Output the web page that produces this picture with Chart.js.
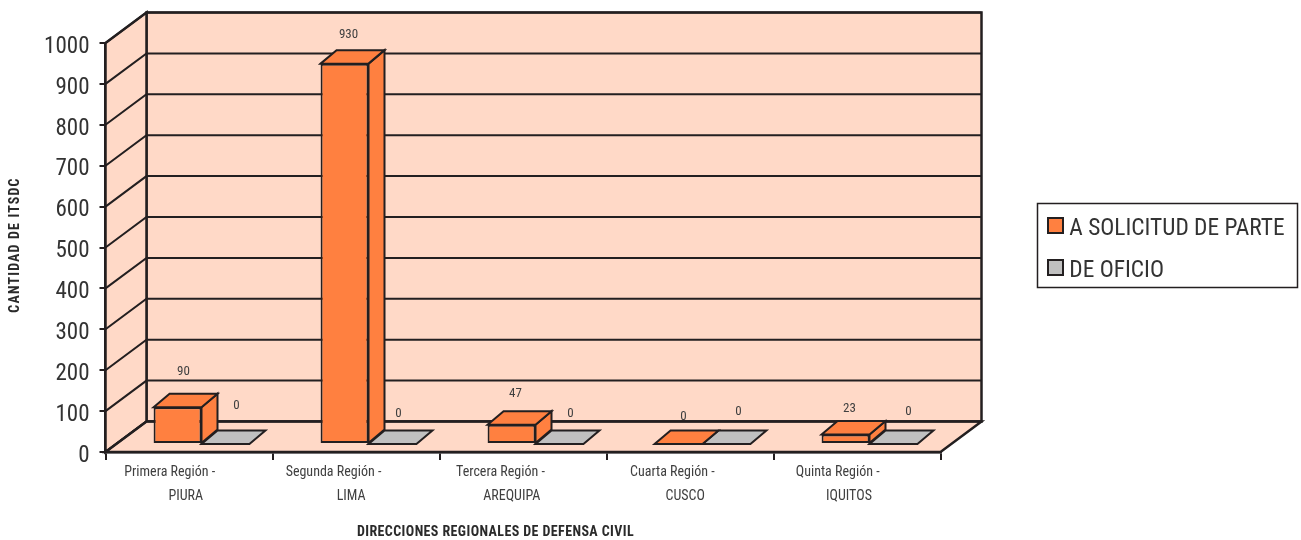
<!DOCTYPE html>
<html lang="es">
<head>
  <meta charset="UTF-8">
  <title>Cantidad de ITSDC</title>
  <script src="https://cdn.jsdelivr.net/npm/chart.js"></script>
  <style>
    body { margin: 0; background: #fff; }
    canvas { display: block; }
  </style>
</head>
<body>
  <canvas id="chart" width="1301" height="540"></canvas>
  <script>
    // Datos
    const regiones = ['Primera Región -', 'Segunda Región -', 'Tercera Región -', 'Cuarta Región -', 'Quinta Región -'];
    const ciudades = ['PIURA', 'LIMA', 'AREQUIPA', 'CUSCO', 'IQUITOS'];
    const solicitud = [90, 930, 47, 0, 23];
    const oficio = [0, 0, 0, 0, 0];
    const tituloY = 'CANTIDAD DE ITSDC';
    const tituloX = 'DIRECCIONES REGIONALES DE DEFENSA CIVIL';

    // Aspecto
    const LINEA = '#231f20';
    const PARED = '#ffd9c7';
    const NARROW = '"Roboto Condensed", "Liberation Sans", sans-serif';
    const fondo = { x: 41, y: -30.5 };     // profundidad de las paredes
    const barra = { x: 16, y: -13.5 };     // profundidad de cada barra
    const piso = { x: 12.5, y: -8 };       // las barras van dentro del piso
    // espacios al final de cada etiqueta (el original las trae descentradas)
    const padRegion = [12, 14, 14, 11, 12];
    const padCiudad = [2, 3, 7, 3, 5];
    // posicion de cada numero respecto a su barra
    const alturaEtiqueta = [[22, 15, 18, 14, 12], [25, 17, 17, 19, 19]];
    const ajusteEtiqueta = [[-2, -4, -4, -3, -4], [3, -2, 3, 4, 7]];

    function poly(ctx, pts, fill) {
      ctx.beginPath();
      pts.forEach((p, i) => i ? ctx.lineTo(p[0], p[1]) : ctx.moveTo(p[0], p[1]));
      ctx.closePath();
      if (fill) { ctx.fillStyle = fill; ctx.fill(); }
      ctx.stroke();
    }

    const caja3d = {
      id: 'caja3d',
      afterLayout(chart) {
        // la leyenda va fuera del area del grafico
        const l = chart.legend;
        const w = l.width, h = l.height;
        l.left = 1027; l.top = 199; l.right = l.left + w; l.bottom = l.top + h;
      },
      beforeDatasetsDraw(chart) {
        const { ctx, chartArea: a, scales: { y } } = chart;
        const d = fondo;
        ctx.save();
        ctx.strokeStyle = LINEA;
        ctx.lineJoin = 'miter';
        ctx.lineWidth = 2.5;
        // pared del fondo, pared izquierda y piso
        poly(ctx, [[a.left + d.x, a.top + d.y], [a.right + d.x, a.top + d.y], [a.right + d.x, a.bottom + d.y], [a.left + d.x, a.bottom + d.y]], PARED);
        poly(ctx, [[a.left, a.top], [a.left + d.x, a.top + d.y], [a.left + d.x, a.bottom + d.y], [a.left, a.bottom]], PARED);
        poly(ctx, [[a.left, a.bottom], [a.left + d.x, a.bottom + d.y], [a.right + d.x, a.bottom + d.y], [a.right, a.bottom]], PARED);
        // lineas de division sobre las dos paredes
        ctx.lineWidth = 2;
        y.ticks.forEach(t => {
          const py = y.getPixelForValue(t.value);
          ctx.beginPath();
          ctx.moveTo(a.left, py);
          ctx.lineTo(a.left + d.x, py + d.y);
          ctx.lineTo(a.right + d.x, py + d.y);
          ctx.stroke();
        });
        ctx.restore();
      },
      beforeDatasetDraw(chart, args) {
        const { ctx } = chart;
        const ds = chart.data.datasets[args.index];
        ctx.save();
        ctx.translate(piso.x, piso.y);
        ctx.save();
        ctx.strokeStyle = LINEA;
        ctx.lineWidth = 2;
        args.meta.data.forEach(bar => {
          const { x, y, base, width } = bar.getProps(['x', 'y', 'base', 'width'], true);
          const l = x - width / 2, r = x + width / 2;
          if (base - y > 0.5) {
            poly(ctx, [[r, y], [r + barra.x, y + barra.y], [r + barra.x, base + barra.y], [r, base]], ds.backgroundColor);
          }
          poly(ctx, [[l, y], [l + barra.x, y + barra.y], [r + barra.x, y + barra.y], [r, y]], ds.backgroundColor);
        });
        ctx.restore();
      },
      afterDatasetDraw(chart) {
        chart.ctx.restore();
      },
      afterDatasetsDraw(chart) {
        const { ctx } = chart;
        ctx.save();
        ctx.fillStyle = '#404040';
        ctx.font = '13px ' + NARROW;
        ctx.textAlign = 'center';
        ctx.textBaseline = 'middle';
        chart.data.datasets.forEach((ds, i) => {
          chart.getDatasetMeta(i).data.forEach((bar, j) => {
            const { x, y } = bar.getProps(['x', 'y'], true);
            const px = x + piso.x + barra.x / 2 + ajusteEtiqueta[i][j];
            const py = y + piso.y + barra.y - alturaEtiqueta[i][j];
            ctx.fillText(String(ds.data[j]), px, py);
          });
        });
        ctx.restore();
      },
      afterDraw(chart) {
        const { ctx } = chart;
        ctx.save();
        // marco y cuadros de la leyenda
        ctx.strokeStyle = LINEA;
        ctx.lineWidth = 1.5;
        ctx.strokeRect(1037.5, 203.5, 260, 84);
        ctx.lineWidth = 2;
        chart.data.datasets.forEach((ds, i) => {
          ctx.fillStyle = ds.backgroundColor;
          ctx.fillRect(1048, 218 + i * 42, 15, 15);
          ctx.strokeRect(1048, 218 + i * 42, 15, 15);
        });
        // titulos de los ejes
        ctx.fillStyle = '#2a2a2a';
        ctx.font = 'bold 14px ' + NARROW;
        ctx.textAlign = 'center';
        ctx.textBaseline = 'middle';
        ctx.letterSpacing = '0.4px';
        ctx.fillText(tituloX, 495.5, 532);
        ctx.letterSpacing = '1.15px';
        ctx.translate(15.5, 245);
        ctx.rotate(-Math.PI / 2);
        ctx.fillText(tituloY, 0, 0);
        ctx.restore();
      }
    };

    new Chart(document.getElementById('chart'), {
      type: 'bar',
      data: {
        labels: regiones,
        datasets: [
          { label: 'A SOLICITUD DE PARTE', data: solicitud, backgroundColor: '#ff8040' },
          { label: 'DE OFICIO', data: oficio, backgroundColor: '#c0c0c0' }
        ].map(d => ({ ...d, borderColor: LINEA, borderWidth: 2, borderSkipped: false, clip: false }))
      },
      options: {
        responsive: false,
        animation: false,
        layout: { padding: { left: 0, right: 360.5, top: 43, bottom: 0 } },
        categoryPercentage: 0.574,
        barPercentage: 1,
        plugins: {
          tooltip: { enabled: false },
          legend: {
            position: 'chartArea',
            align: 'start',
            labels: {
              boxWidth: 12,
              boxHeight: 12,
              padding: 18.6,
              color: '#333',
              font: { family: NARROW, size: 23.4 },
              // los cuadros se pintan aparte, con su propia posicion
              generateLabels: chart => Chart.defaults.plugins.legend.labels.generateLabels(chart)
                .map(it => ({ ...it, fillStyle: 'transparent', lineWidth: 0 }))
            }
          }
        },
        scales: {
          x: {
            afterFit: s => { s.height = 88; },
            grid: { drawOnChartArea: false, drawTicks: true, tickLength: 8, color: LINEA, lineWidth: 2 },
            border: { display: true, color: LINEA, width: 2.5 },
            ticks: {
              autoSkip: false,
              maxRotation: 0,
              minRotation: 0,
              padding: 1,
              color: '#404040',
              font: { family: NARROW, size: 14, lineHeight: 1.714 },
              callback: (v, i) => [
                regiones[i] + '\u00a0'.repeat(padRegion[i]),
                ciudades[i] + '\u00a0'.repeat(padCiudad[i])
              ]
            }
          },
          y: {
            min: 0,
            max: 1000,
            afterFit: s => { s.width = 105.5; },
            grid: { drawOnChartArea: false, drawTicks: true, tickLength: 6, color: LINEA, lineWidth: 2 },
            border: { display: true, color: LINEA, width: 2.5 },
            ticks: {
              stepSize: 100,
              padding: 10,
              labelOffset: 4,
              color: '#333',
              font: { family: NARROW, size: 23 },
              callback: v => String(v)
            }
          }
        }
      },
      plugins: [caja3d]
    });
  </script>
</body>
</html>
